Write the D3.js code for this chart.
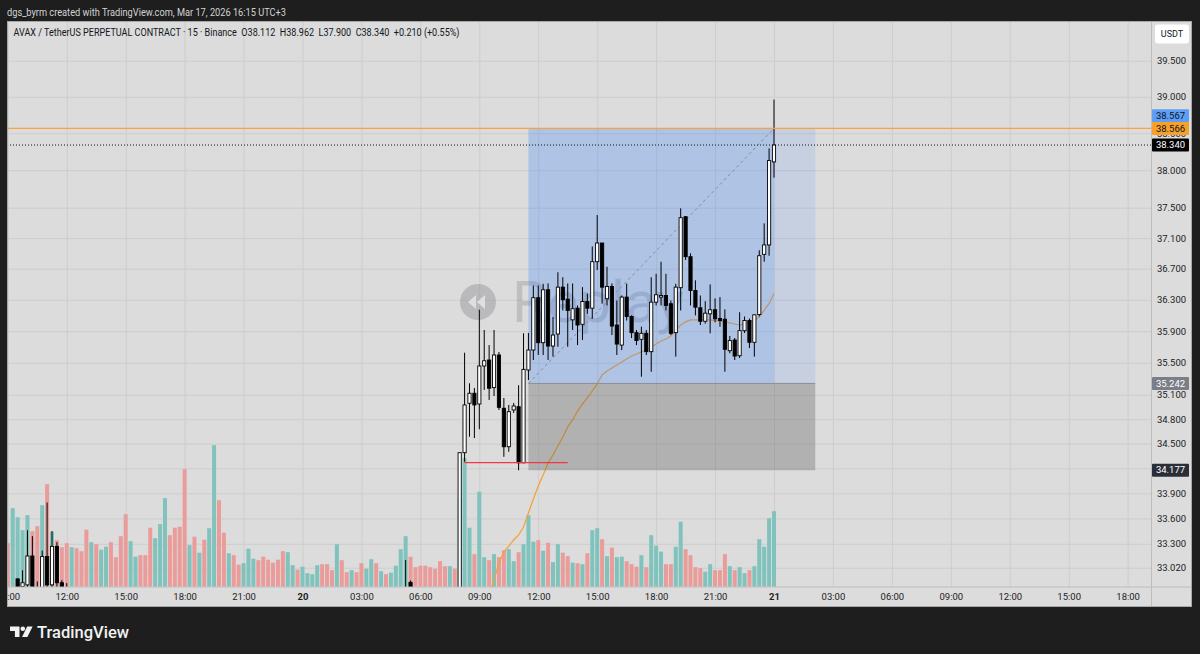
<!DOCTYPE html>
<html>
<head>
<meta charset="utf-8">
<script src="https://cdn.jsdelivr.net/npm/d3@7"></script>
<style>
  html, body { margin: 0; padding: 0; background: #1e1e1e; }
  svg { display: block; font-family: Roboto, "Noto Sans", sans-serif; }
</style>
</head>
<body>
<div id="chart"></div>
<script>
// bar = number of 15-minute bars since Mar 20 00:00 (negative = Mar 19)
const candleBars = [-58, -57, -56, -55, -54, -53, -52, -51, -50, -49, -48, 21, 22,
  32, 33, 34, 35, 36, 37, 38, 39, 40, 41, 42, 43, 44, 45, 46, 47, 48, 49, 50, 51,
  52, 53, 54, 55, 56, 57, 58, 59, 60, 61, 62, 63, 64, 65, 66, 67, 68, 69, 70, 71,
  72, 73, 74, 75, 76, 77, 78, 79, 80, 81, 82, 83, 84, 85, 86, 87, 88, 89, 90, 91,
  92, 93, 94, 95, 96];
const opens = [32.89, 32.80, 32.82, 33.157, 32.76, 32.75, 33.15, 32.82, 33.27, 32.845, 32.78, 32.60, 32.85,
  32.55, 34.39, 34.996, 35.12, 34.987, 35.46, 35.535, 35.19, 35.598, 34.934,
  34.462, 34.913, 34.954, 34.267, 35.41, 35.661, 36.326, 35.753, 36.428, 35.711,
  35.863, 36.462, 36.308, 36.043, 36.192, 35.986, 36.278, 36.192, 36.791, 37.035,
  36.313, 36.47, 35.977, 35.723, 36.334, 36.086, 35.88, 35.796, 35.872, 35.64,
  36.269, 36.334, 36.355, 36.249, 35.88, 36.455, 37.381, 36.856, 36.419, 36.197,
  36.025, 36.12, 36.172, 36.06, 36.051, 35.652, 35.787, 35.589, 35.905, 36.034,
  35.758, 36.11, 36.887, 37.01, 38.112];
const highs = [32.89, 32.99, 33.46, 33.39, 32.86, 33.22, 33.79, 33.45, 33.32, 32.875, 32.84, 33.11, 32.87,
  34.39, 35.627, 35.244, 35.186, 36.172, 35.914, 35.723, 35.914, 35.636, 35.061,
  34.975, 35.0, 35.22, 35.872, 35.876, 36.483, 36.483, 36.505, 36.51, 36.08,
  36.655, 36.59, 36.509, 36.509, 36.227, 36.462, 36.38, 36.99, 37.403, 37.035,
  36.726, 36.51, 36.29, 36.355, 36.509, 36.10, 35.914, 35.956, 35.914, 36.59,
  36.634, 36.791, 36.634, 36.29, 36.505, 37.492, 37.39, 36.90, 36.55, 36.355,
  36.282, 36.497, 36.317, 36.334, 36.176, 35.838, 35.812, 36.14, 36.086, 36.06,
  36.11, 36.94, 37.293, 38.295, 38.962];
const lows = [32.70, 32.75, 32.75, 32.70, 32.70, 32.70, 32.75, 32.78, 32.75, 32.75, 32.70, 32.50, 32.60,
  32.50, 34.28, 34.584, 34.568, 34.676, 35.161, 35.037, 35.086, 34.913, 34.34,
  34.401, 34.876, 34.177, 34.267, 35.284, 35.535, 35.598, 35.598, 35.535, 35.577,
  35.702, 36.163, 35.702, 35.914, 35.723, 35.787, 36.12, 36.056, 36.683, 36.249,
  36.227, 35.85, 35.598, 35.66, 36.034, 35.812, 35.723, 35.326, 35.598, 35.388,
  36.227, 36.227, 36.163, 35.85, 35.577, 36.163, 36.813, 36.227, 36.10, 35.977,
  35.995, 35.872, 36.012, 35.956, 35.388, 35.619, 35.535, 35.56, 35.876, 35.685,
  35.577, 36.086, 36.791, 36.869, 37.90];
const closes = [32.78, 32.845, 33.157, 32.78, 32.74, 33.15, 32.82, 33.27, 32.845, 32.80, 32.76, 32.75, 32.79,
  34.39, 34.975, 35.12, 34.975, 35.46, 35.526, 35.182, 35.598, 34.946, 34.462,
  34.892, 34.962, 34.267, 35.418, 35.661, 36.326, 35.753, 36.428, 35.711, 35.85,
  36.462, 36.30, 36.163, 36.185, 35.977, 36.278, 36.192, 36.791, 37.035, 36.462,
  36.47, 35.964, 35.736, 36.334, 36.086, 35.88, 35.78, 35.872, 35.64, 36.269,
  36.364, 36.355, 36.227, 35.872, 36.462, 37.368, 36.856, 36.419, 36.205, 36.025,
  36.128, 36.172, 36.056, 36.034, 35.67, 35.78, 35.585, 35.905, 36.034, 35.758,
  36.107, 36.869, 37.01, 38.13, 38.34];

// volume, one value per bar from bar -60 to bar 96; t = up (teal), r = down (red)
const volumeStart = -60;
const volumes = [87, 157, 139, 113, 143, 111, 121, 163, 205, 110,
  93, 79, 87, 79, 77, 71, 114, 89, 85, 74,
  80, 89, 59, 101, 145, 91, 60, 63, 63, 118,
  97, 125, 177, 103, 118, 120, 235, 83, 100, 68,
  94, 117, 283, 173, 108, 67, 63, 44, 47, 76,
  56, 53, 60, 54, 48, 54, 71, 69, 43, 34,
  40, 27, 25, 43, 45, 45, 33, 85, 53, 29,
  33, 29, 47, 36, 55, 47, 31, 25, 28, 42,
  75, 101, 60, 39, 42, 42, 39, 36, 51, 41,
  41, 36, 177, 257, 118, 65, 190, 59, 53, 65,
  59, 73, 75, 51, 69, 85, 143, 90, 93, 72,
  88, 49, 85, 68, 61, 48, 47, 45, 67, 113,
  117, 95, 61, 78, 59, 60, 51, 45, 40, 63,
  39, 103, 82, 70, 45, 45, 80, 130, 75, 63,
  39, 37, 30, 45, 33, 33, 65, 41, 33, 39,
  27, 33, 41, 95, 80, 137, 151];
const volumeDir = 'rttttrrtrt' + 'rrrtrrrtrt' + 'trrrrttrrr' + 'tttrrrrtrt' + 'rttrrtrrtt' +
  'trrrrrrttr' + 'ttttrrrtrr' + 'trrttrtrtt' + 'ttrrrrrrrr' + 'trtttrttrt' +
  'rrttrtttrt' + 'rttrrtrtrt' + 'trtrttrrrt' + 'rtttrrttrr' + 'rrttrrrtrt' + 'trttttt';

// orange average line, bars 38..96
const vwapStart = 38;
const vwapValues = [32.70, 32.876, 33.075, 33.203, 33.273, 33.345, 33.404, 33.498, 33.665, 33.831,
  33.987, 34.119, 34.264, 34.361, 34.471, 34.581, 34.704, 34.79, 34.901, 34.987,
  35.062, 35.148, 35.235, 35.347, 35.397, 35.434, 35.472, 35.51, 35.548, 35.585,
  35.61, 35.636, 35.661, 35.699, 35.736, 35.774, 35.80, 35.838, 35.914, 35.977,
  36.017, 36.042, 36.042, 36.042, 36.042, 36.042, 36.03, 36.03, 36.017, 36.004,
  35.99, 35.977, 35.99, 36.017, 36.042, 36.08, 36.163, 36.253, 36.381];

// long position tool
const entryPrice = 35.242;
const targetPrice = 38.566;
const stopPrice = 34.177;
const positionStart = 46;
const positionNow = 96;
const positionEnd = 104.4;
const lowLinePrice = 34.27;
const lowLineBars = [33, 54];

const priceTicks = [39.5, 39.0, 38.5, 38.0, 37.5, 37.1, 36.7, 36.3, 35.9, 35.5, 35.1, 34.8, 34.5, 34.2, 33.9, 33.6, 33.3, 33.02];
const timeTicks = [-60, -48, -36, -24, -12, 0, 12, 24, 36, 48, 60, 72, 84, 96, 108, 120, 132, 144, 156, 168];
const timeLabels = ['09:00', '12:00', '15:00', '18:00', '21:00', '20', '03:00', '06:00', '09:00', '12:00',
  '15:00', '18:00', '21:00', '21', '03:00', '06:00', '09:00', '12:00', '15:00', '18:00'];
const dayLabels = ['20', '21'];

const tagValues = [38.567, 38.566, 38.340, 35.242, 34.177];

const W = 1200, H = 654;
const pane = { left: 7, top: 21, right: 1151.5, bottom: 587, outerRight: 1192, outerBottom: 607 };

const candles = candleBars.map((bar, i) => ({
  bar, open: opens[i], high: highs[i], low: lows[i], close: closes[i]
}));
const volumeData = volumes.map((v, i) => ({ bar: volumeStart + i, v, up: volumeDir[i] === 't' }));
const vwapData = vwapValues.map((v, i) => ({ bar: vwapStart + i, v }));

const xScale = d3.scaleLinear().domain([0, 96]).range([302.5, 774]);
const yScale = d3.scaleLog().domain([33.02, 39.5]).range([567.7, 60.7]);
const volScale = d3.scaleLinear().domain([0, 300]).range([586.7, 436.7]);

const svg = d3.select('#chart').append('svg')
  .attr('width', W).attr('height', H)
  .attr('viewBox', `0 0 ${W} ${H}`);

const defs = svg.append('defs');
defs.append('clipPath').attr('id', 'plot').append('rect')
  .attr('x', pane.left).attr('y', pane.top)
  .attr('width', pane.right - pane.left).attr('height', pane.bottom - pane.top);
defs.append('clipPath').attr('id', 'timeaxis').append('rect')
  .attr('x', pane.left).attr('y', pane.bottom)
  .attr('width', pane.right - pane.left).attr('height', pane.outerBottom - pane.bottom);

svg.append('rect').attr('width', W).attr('height', H).attr('fill', '#1e1e1e');
svg.append('rect')
  .attr('x', pane.left).attr('y', pane.top)
  .attr('width', pane.outerRight - pane.left).attr('height', pane.outerBottom - pane.top)
  .attr('fill', '#dcdcdc');

// header
svg.append('text')
  .attr('x', 7).attr('y', 16)
  .attr('font-size', 10.5).attr('fill', '#d4d4d4')
  .attr('textLength', 279).attr('lengthAdjust', 'spacingAndGlyphs')
  .text('dgs_byrm created with TradingView.com, Mar 17, 2026 16:15 UTC+3');

const plot = svg.append('g').attr('clip-path', 'url(#plot)');

// gridlines
plot.append('g')
  .attr('class', 'gridlines')
  .attr('transform', `translate(0, ${pane.bottom})`)
  .call(d3.axisBottom(xScale).tickValues(timeTicks).tickFormat('').tickSize(-(pane.bottom - pane.top)))
  .call(g => g.select('.domain').remove())
  .call(g => g.selectAll('line').attr('stroke', '#cdcdcd'));
plot.append('g')
  .attr('class', 'gridlines')
  .attr('transform', `translate(${pane.left}, 0)`)
  .call(d3.axisRight(yScale).tickValues(priceTicks).tickFormat('').tickSize(pane.right - pane.left))
  .call(g => g.select('.domain').remove())
  .call(g => g.selectAll('line').attr('stroke', '#cdcdcd'));

// replay watermark
const mark = plot.append('g').attr('class', 'watermark');
mark.append('circle').attr('cx', 478).attr('cy', 302).attr('r', 18).attr('fill', 'rgba(110,110,118,0.3)');
mark.append('path').attr('d', 'M468,302 l8,-7 v14 z M477,302 l8,-7 v14 z').attr('fill', 'rgba(240,240,240,0.7)');
mark.append('text')
  .attr('x', 512).attr('y', 322)
  .attr('font-size', 58).attr('fill', 'rgba(110,110,118,0.26)')
  .text('Replay');

// volume
plot.append('g').attr('class', 'volume')
  .selectAll('rect')
  .data(volumeData)
  .join('rect')
  .attr('x', d => xScale(d.bar) - 2)
  .attr('width', 4)
  .attr('y', d => volScale(d.v))
  .attr('height', d => volScale(0) - volScale(d.v))
  .attr('fill', d => d.up ? '#7fc3bc' : '#e99c9a');

// average line
plot.append('path')
  .datum(vwapData)
  .attr('fill', 'none')
  .attr('stroke', '#f5a034')
  .attr('stroke-width', 1.2)
  .attr('d', d3.line().x(d => xScale(d.bar)).y(d => yScale(d.v)));

// long position
const pos = plot.append('g').attr('class', 'position');
const xStart = xScale(positionStart), xNow = xScale(positionNow), xEnd = xScale(positionEnd);
pos.append('rect')
  .attr('x', xStart).attr('width', xNow - xStart)
  .attr('y', yScale(targetPrice)).attr('height', yScale(entryPrice) - yScale(targetPrice))
  .attr('fill', 'rgba(41,120,255,0.25)');
pos.append('rect')
  .attr('x', xNow).attr('width', xEnd - xNow)
  .attr('y', yScale(targetPrice)).attr('height', yScale(entryPrice) - yScale(targetPrice))
  .attr('fill', 'rgba(41,120,255,0.12)');
pos.append('rect')
  .attr('x', xStart).attr('width', xEnd - xStart)
  .attr('y', yScale(entryPrice)).attr('height', yScale(stopPrice) - yScale(entryPrice))
  .attr('fill', 'rgba(70,70,70,0.28)');
pos.append('line')
  .attr('x1', xStart).attr('x2', xEnd)
  .attr('y1', yScale(entryPrice)).attr('y2', yScale(entryPrice))
  .attr('stroke', '#8c8f98').attr('stroke-width', 1);
pos.append('line')
  .attr('x1', xStart).attr('y1', yScale(entryPrice))
  .attr('x2', xNow).attr('y2', yScale(targetPrice))
  .attr('stroke', '#8a8d95').attr('stroke-width', 1)
  .attr('stroke-dasharray', '3,3');

// candles
const candleG = plot.append('g').attr('class', 'candles');
candleG.selectAll('line')
  .data(candles)
  .join('line')
  .attr('x1', d => xScale(d.bar)).attr('x2', d => xScale(d.bar))
  .attr('y1', d => yScale(d.high)).attr('y2', d => yScale(d.low))
  .attr('stroke', '#000').attr('stroke-width', 1);
candleG.selectAll('rect')
  .data(candles)
  .join('rect')
  .attr('x', d => xScale(d.bar) - 1.6)
  .attr('width', 3.2)
  .attr('y', d => yScale(Math.max(d.open, d.close)))
  .attr('height', d => Math.max(1, Math.abs(yScale(d.open) - yScale(d.close))))
  .attr('fill', d => d.close >= d.open ? '#ffffff' : '#000000')
  .attr('stroke', '#000').attr('stroke-width', 0.9);

// swing low line
plot.append('line')
  .attr('x1', xScale(lowLineBars[0])).attr('x2', xScale(lowLineBars[1]))
  .attr('y1', yScale(lowLinePrice)).attr('y2', yScale(lowLinePrice))
  .attr('stroke', '#f23645').attr('stroke-width', 1.2);

// horizontal price lines
plot.append('line')
  .attr('x1', pane.left).attr('x2', pane.right)
  .attr('y1', yScale(targetPrice)).attr('y2', yScale(targetPrice))
  .attr('stroke', '#f7a440').attr('stroke-width', 1.3);
plot.append('line')
  .attr('x1', pane.left).attr('x2', pane.right)
  .attr('y1', yScale(closes[closes.length - 1])).attr('y2', yScale(closes[closes.length - 1]))
  .attr('stroke', '#111').attr('stroke-width', 1)
  .attr('stroke-dasharray', '1,2');

// axis separators
svg.append('line')
  .attr('x1', pane.right).attr('x2', pane.right)
  .attr('y1', pane.top).attr('y2', pane.outerBottom)
  .attr('stroke', '#bdbdbd');
svg.append('line')
  .attr('x1', pane.left).attr('x2', pane.outerRight)
  .attr('y1', pane.bottom).attr('y2', pane.bottom)
  .attr('stroke', '#bdbdbd');
svg.append('rect')
  .attr('x', pane.left + 0.5).attr('y', pane.top + 0.5)
  .attr('width', pane.outerRight - pane.left - 1).attr('height', pane.outerBottom - pane.top - 1)
  .attr('fill', 'none').attr('stroke', '#a8a8a8');

// price axis
svg.append('g')
  .attr('transform', `translate(${1171.5}, 0)`)
  .call(d3.axisRight(yScale).tickValues(priceTicks).tickFormat(d3.format('.3f')).tickSize(0).tickPadding(0))
  .call(g => g.select('.domain').remove())
  .call(g => g.selectAll('text')
    .attr('text-anchor', 'middle')
    .attr('font-family', 'Roboto, sans-serif')
    .attr('font-size', 9.5)
    .attr('fill', '#222'));

// time axis
svg.append('g')
  .attr('clip-path', 'url(#timeaxis)')
  .append('g')
  .attr('transform', `translate(0, ${pane.bottom})`)
  .call(d3.axisBottom(xScale).tickValues(timeTicks).tickFormat((d, i) => timeLabels[i]).tickSize(0).tickPadding(6))
  .call(g => g.select('.domain').remove())
  .call(g => g.selectAll('text')
    .attr('font-family', 'Roboto, sans-serif')
    .attr('font-size', 9.5)
    .attr('fill', '#222')
    .attr('font-weight', (d, i) => dayLabels.includes(timeLabels[i]) ? 700 : 400));

// price tags on the axis
const tagStyles = [
  { fill: '#5e9ff5', color: '#10141f', shift: -12.7 },
  { fill: '#f7a128', color: '#10141f', shift: 0 },
  { fill: '#000000', color: '#ffffff', shift: 0 },
  { fill: '#7b7e87', color: '#ffffff', shift: 0 },
  { fill: '#2a2e39', color: '#ffffff', shift: 0 }
];
const tags = svg.append('g').attr('class', 'tags');
tagValues.forEach((v, i) => {
  const s = tagStyles[i];
  const y = yScale(v) + s.shift;
  tags.append('rect')
    .attr('x', 1152).attr('y', y - 6.5)
    .attr('width', 37).attr('height', 13)
    .attr('rx', 1)
    .attr('fill', s.fill);
  tags.append('text')
    .attr('x', 1170.5).attr('y', y)
    .attr('dy', '0.34em')
    .attr('text-anchor', 'middle')
    .attr('font-size', 9.5)
    .attr('fill', s.color)
    .text(d3.format('.3f')(v));
});

// currency box
svg.append('rect')
  .attr('x', 1155).attr('y', 24.5)
  .attr('width', 34).attr('height', 19)
  .attr('rx', 3).attr('fill', '#ffffff');
svg.append('text')
  .attr('x', 1172).attr('y', 34)
  .attr('dy', '0.35em').attr('text-anchor', 'middle')
  .attr('font-size', 9).attr('fill', '#131722')
  .text('USDT');

// legend
const last = candles[candles.length - 1];
const prevClose = candles[candles.length - 2].close;
const change = last.close - prevClose;
const legendText = `AVAX / TetherUS PERPETUAL CONTRACT \u00b7 15 \u00b7 Binance  O${last.open.toFixed(3)}  H${last.high.toFixed(3)}  L${last.low.toFixed(3)}  C${last.close.toFixed(3)}  +${change.toFixed(3)} (+${(change / prevClose * 100).toFixed(2)}%)`;
svg.append('text')
  .attr('x', 13.5).attr('y', 35.5)
  .attr('font-size', 10.5).attr('fill', '#131722')
  .attr('textLength', 446).attr('lengthAdjust', 'spacingAndGlyphs')
  .style('white-space', 'pre')
  .text(legendText);

// TradingView logo
const logo = svg.append('g').attr('fill', '#f2f2f2');
logo.append('path').attr('d', 'M10,626.5 h9.5 v10.5 h-4.6 v-6 h-4.9 z');
logo.append('circle').attr('cx', 22.8).attr('cy', 628.8).attr('r', 2.3);
logo.append('path').attr('d', 'M27.2,626.5 h5.4 l-5.2,10.5 h-5.4 z');
logo.append('text')
  .attr('x', 37).attr('y', 637.5)
  .attr('font-size', 16).attr('font-weight', 500)
  .attr('textLength', 92).attr('lengthAdjust', 'spacingAndGlyphs')
  .text('TradingView');
</script>
</body>
</html>
